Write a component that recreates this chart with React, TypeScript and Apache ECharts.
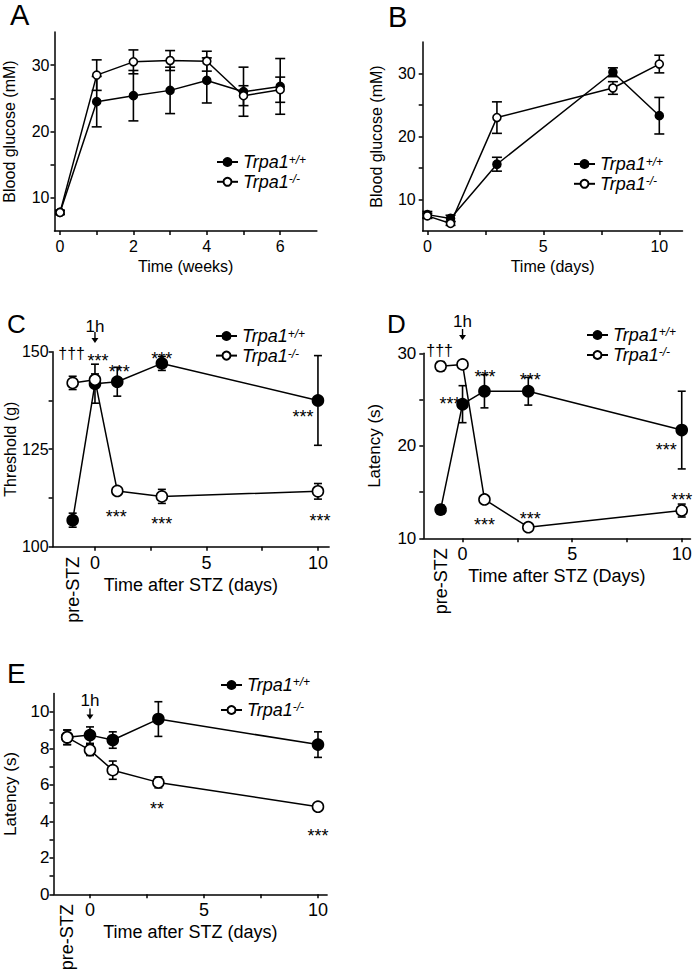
import React, { useEffect, useRef } from 'react';
import * as echarts from 'echarts';

// ---------- DATA ----------
// Panel A: blood glucose vs weeks
const weeksA = [0, 1, 2, 3, 4, 5, 6];
const glucoseA_WT = [7.8, 24.5, 25.4, 26.2, 27.7, 26.0, 26.8];
const glucoseA_WT_sem = [0.3, 3.8, 3.8, 3.5, 3.4, 3.7, 4.2];
const glucoseA_KO = [7.8, 28.5, 30.5, 30.7, 30.6, 25.4, 26.3];
const glucoseA_KO_sem = [0.3, 2.3, 1.8, 1.5, 1.5, 1.5, 1.9];

// Panel B: blood glucose vs days
const daysB = [0, 1, 3, 8, 10];
const glucoseB_WT = [7.6, 7.0, 15.6, 30.2, 23.3];
const glucoseB_WT_sem = [0.5, 0.5, 1.1, 0.7, 2.9];
const glucoseB_KO = [7.4, 6.2, 23.0, 27.7, 31.5];
const glucoseB_KO_sem = [0.4, 0.3, 2.5, 1.0, 1.4];

// Panels C, D, E: time after STZ (days); -1 = pre-STZ, 0 = 1 h
const daysSTZ = [-1, 0, 1, 3, 10];
const thresholdC_WT = [106.8, 141.8, 142.3, 147.0, 137.5];
const thresholdC_WT_sem = [1.8, 5.0, 3.7, 1.8, 11.5];
const thresholdC_KO = [142.0, 142.8, 114.3, 112.9, 114.2];
const thresholdC_KO_sem = [1.7, 1.5, 0.7, 1.8, 2.0];

const latencyD_WT = [13.1, 24.5, 25.9, 25.9, 21.7];
const latencyD_WT_sem = [0.5, 2.0, 1.8, 1.5, 4.2];
const latencyD_KO = [28.6, 28.8, 14.2, 11.2, 13.0];
const latencyD_KO_sem = [0.5, 0.4, 0.3, 0.2, 0.7];

const latencyE_WT = [8.6, 8.72, 8.45, 9.6, 8.2];
const latencyE_WT_sem = [0.4, 0.45, 0.45, 0.95, 0.7];
const latencyE_KO = [8.6, 7.9, 6.8, 6.13, 4.8];
const latencyE_KO_sem = [0.4, 0.3, 0.5, 0.3, 0.1];

// Tick values
const ticksA_x = [0, 1, 2, 3, 4, 5, 6];
const labelsA_x = [0, 2, 4, 6];
const ticksGluc_y = [10, 15, 20, 25, 30];
const labelsGluc_y = [10, 20, 30];
const ticksB_x = [0, 2.5, 5, 7.5, 10];
const labelsB_x = [0, 5, 10];
const ticksSTZ_x = [0, 2.5, 5, 7.5, 10];
const labelsSTZ_x = [0, 5, 10];
const ticksC_y = [100, 112.5, 125, 137.5, 150];
const labelsC_y = [100, 125, 150];
const ticksD_y = [10, 15, 20, 25, 30];
const labelsD_y = [10, 20, 30];
const ticksE_y = [0, 1, 2, 3, 4, 5, 6, 7, 8, 9, 10];
const labelsE_y = [0, 2, 4, 6, 8, 10];

const WT = 'Trpa1+/+';
const KO = 'Trpa1-/-';

// ---------- LAYOUT ----------
const FONT = '"Liberation Sans", Arial, Helvetica, sans-serif';

type Ann = { s: 'wt' | 'ko'; i: number; t: string; dx: number; dy: number; fs?: number };

const panels: any[] = [
  {
    letter: 'A', lx: 10, ly: 0, lfs: 29,
    grid: { left: 54.5, top: 32, width: 262.4, height: 199 },
    x: { min: -0.15, max: 7, ticks: ticksA_x, labels: labelsA_x, name: 'Time (weeks)', fs: 16, nameGap: 27, margin: 7 },
    y: { min: 5, max: 35, ticks: ticksGluc_y, labels: labelsGluc_y, name: 'Blood glucose (mM)', fs: 16, nameGap: 37, margin: 5 },
    xs: weeksA, wt: glucoseA_WT, wtE: glucoseA_WT_sem, ko: glucoseA_KO, koE: glucoseA_KO_sem,
    sym: 8, cap: 5, legend: { left: 216, top: 153, gap: 1.3, lh: 17 }, ann: [] as Ann[], arrow: null, pre: false,
  },
  {
    letter: 'B', lx: 388, ly: 2, lfs: 29,
    grid: { left: 422.7, top: 42, width: 259.8, height: 189 },
    x: { min: -0.2, max: 11, ticks: ticksB_x, labels: labelsB_x, name: 'Time (days)', fs: 16, nameGap: 27, margin: 7 },
    y: { min: 5, max: 35, ticks: ticksGluc_y, labels: labelsGluc_y, name: 'Blood glucose (mM)', fs: 16, nameGap: 38, margin: 7 },
    xs: daysB, wt: glucoseB_WT, wtE: glucoseB_WT_sem, ko: glucoseB_KO, koE: glucoseB_KO_sem,
    sym: 8, cap: 5, legend: { left: 573, top: 155, gap: 1.3, lh: 17 }, ann: [] as Ann[], arrow: null, pre: false,
  },
  {
    letter: 'C', lx: 7, ly: 311, lfs: 26,
    grid: { left: 52.6, top: 351.7, width: 276.5, height: 195 },
    x: { min: -1.9, max: 10.5, ticks: ticksSTZ_x, labels: labelsSTZ_x, name: 'Time after STZ (days)', fs: 18, nameGap: 29, margin: 7 },
    y: { min: 100, max: 150, ticks: ticksC_y, labels: labelsC_y, name: 'Threshold (g)', fs: 16, nameGap: 31, margin: 4, nameFs: 16 },
    xs: daysSTZ, wt: thresholdC_WT, wtE: thresholdC_WT_sem, ko: thresholdC_KO, koE: thresholdC_KO_sem,
    sym: 11, cap: 4, legend: { left: 215, top: 327, gap: 0.6, lh: 16 },
    ann: [
      { s: 'wt', i: 1, t: '***', dx: 3, dy: -27 },
      { s: 'wt', i: 2, t: '***', dx: 2, dy: -14 },
      { s: 'wt', i: 3, t: '***', dx: 0, dy: -9 },
      { s: 'wt', i: 4, t: '***', dx: -15, dy: 12 },
      { s: 'ko', i: 2, t: '***', dx: -1, dy: 22 },
      { s: 'ko', i: 3, t: '***', dx: 0, dy: 23 },
      { s: 'ko', i: 4, t: '***', dx: 2, dy: 25 },
      { s: 'ko', i: 0, t: '†††', dx: -1, dy: -29, fs: 16 },
    ] as Ann[],
    arrow: { sym: -14.2, lab: -25.7 }, pre: true,
  },
  {
    letter: 'D', lx: 387, ly: 311, lfs: 26,
    grid: { left: 423.3, top: 353.3, width: 267.2, height: 185 },
    x: { min: -1.79, max: 10.4, ticks: ticksSTZ_x, labels: labelsSTZ_x, name: 'Time after STZ (Days)', fs: 18, nameGap: 29, margin: 7 },
    y: { min: 10, max: 30, ticks: ticksD_y, labels: labelsD_y, name: 'Latency (s)', fs: 17, nameGap: 40, margin: 7 },
    xs: daysSTZ, wt: latencyD_WT, wtE: latencyD_WT_sem, ko: latencyD_KO, koE: latencyD_KO_sem,
    sym: 11, cap: 4, legend: { left: 586, top: 326, gap: 2, lh: 18 },
    ann: [
      { s: 'wt', i: 1, t: '***', dx: -12.5, dy: -5 },
      { s: 'wt', i: 2, t: '***', dx: 0.6, dy: -19 },
      { s: 'wt', i: 3, t: '***', dx: 2, dy: -16 },
      { s: 'wt', i: 4, t: '***', dx: -15.5, dy: 15 },
      { s: 'ko', i: 2, t: '***', dx: 0, dy: 21 },
      { s: 'ko', i: 3, t: '***', dx: 2, dy: -13 },
      { s: 'ko', i: 4, t: '***', dx: 0, dy: -15 },
      { s: 'ko', i: 0, t: '†††', dx: -1, dy: -16, fs: 16 },
    ] as Ann[],
    arrow: { sym: -18.8, lab: -31.8 }, pre: true,
  },
  {
    letter: 'E', lx: 7, ly: 659, lfs: 28,
    grid: { left: 53.5, top: 693.5, width: 273.6, height: 200.8 },
    x: { min: -1.6, max: 10.4, ticks: ticksSTZ_x, labels: labelsSTZ_x, name: 'Time after STZ (days)', fs: 18, nameGap: 29, margin: 7 },
    y: { min: 0, max: 11, ticks: ticksE_y, labels: labelsE_y, name: 'Latency (s)', fs: 17, nameGap: 35, margin: 4 },
    xs: daysSTZ, wt: latencyE_WT, wtE: latencyE_WT_sem, ko: latencyE_KO, koE: latencyE_KO_sem,
    sym: 11, cap: 4, legend: { left: 220, top: 676, gap: 7, lh: 18 },
    ann: [
      { s: 'ko', i: 3, t: '**', dx: -1.5, dy: 22 },
      { s: 'ko', i: 4, t: '***', dx: 0, dy: 25 },
    ] as Ann[],
    arrow: { sym: 20.5, lab: 6.5 }, pre: true,
  },
];

function buildOption() {
  const grid: any[] = [];
  const xAxis: any[] = [];
  const yAxis: any[] = [];
  const series: any[] = [];
  const legend: any[] = [];

  panels.forEach((p, gi) => {
    grid.push({ ...p.grid, outerBoundsMode: 'none', containLabel: false });
    const xi = xAxis.length;
    const yi = yAxis.length;
    p._xi = xi;
    p._yi = yi;
    xAxis.push({
      type: 'value', gridIndex: gi, position: 'bottom', min: p.x.min, max: p.x.max,
      axisLine: { show: true, onZero: false, lineStyle: { color: '#000', width: 1.5 } },
      axisTick: { show: true, customValues: p.x.ticks, length: 4, lineStyle: { color: '#000', width: 1.5 } },
      axisLabel: { customValues: p.x.labels, fontSize: p.x.fs, color: '#000', fontFamily: FONT, margin: p.x.margin },
      splitLine: { show: false },
      name: p.x.name, nameLocation: 'middle', nameGap: p.x.nameGap,
      nameTextStyle: { fontSize: p.x.fs, color: '#000', fontFamily: FONT },
    });
    yAxis.push({
      type: 'value', gridIndex: gi, min: p.y.min, max: p.y.max,
      axisLine: { show: true, onZero: false, lineStyle: { color: '#000', width: 1.5 } },
      axisTick: { show: true, customValues: p.y.ticks, length: 4, lineStyle: { color: '#000', width: 1.5 } },
      axisLabel: { customValues: p.y.labels, fontSize: p.y.fs, color: '#000', fontFamily: FONT, margin: p.y.margin },
      splitLine: { show: false },
      name: p.y.name, nameLocation: 'middle', nameGap: p.y.nameGap,
      nameTextStyle: { fontSize: p.y.nameFs || p.y.fs, color: '#000', fontFamily: FONT },
    });
    if (p.pre) {
      xAxis.push({
        type: 'value', gridIndex: gi, position: 'bottom', min: p.x.min, max: p.x.max,
        axisLine: { show: false, onZero: false }, axisTick: { show: false }, splitLine: { show: false },
        axisLabel: {
          customValues: [p.xs[0]], rotate: 90, margin: 10, fontSize: 18, color: '#000', fontFamily: FONT,
          formatter: () => 'pre-STZ',
        },
      });
    }

    const err = (name: string, ys: number[], es: number[]) => ({
      type: 'custom', name, xAxisIndex: xi, yAxisIndex: yi, z: 2, clip: false, silent: true,
      data: p.xs.map((x: number, k: number) => [x, ys[k] - es[k], ys[k] + es[k]]),
      encode: { x: 0, y: [1, 2] },
      renderItem: (_params: any, api: any) => {
        const x = api.value(0);
        const a = api.coord([x, api.value(2)]);
        const b = api.coord([x, api.value(1)]);
        const st = { stroke: '#000', lineWidth: 1.6 };
        const c = p.cap;
        return {
          type: 'group',
          children: [
            { type: 'line', shape: { x1: a[0], y1: a[1], x2: b[0], y2: b[1] }, style: st },
            { type: 'line', shape: { x1: a[0] - c, y1: a[1], x2: a[0] + c, y2: a[1] }, style: st },
            { type: 'line', shape: { x1: b[0] - c, y1: b[1], x2: b[0] + c, y2: b[1] }, style: st },
          ],
        };
      },
    });
    series.push(err('errWT' + gi, p.wt, p.wtE));
    series.push(err('errKO' + gi, p.ko, p.koE));

    const line = (name: string, ys: number[], fill: string) => ({
      type: 'line', name, xAxisIndex: xi, yAxisIndex: yi, z: 3, clip: false,
      data: p.xs.map((x: number, k: number) => [x, ys[k]]),
      symbol: 'circle', symbolSize: p.sym, showSymbol: true,
      lineStyle: { color: '#000', width: 1.5 },
      itemStyle: { color: fill, borderColor: '#000', borderWidth: 1.6 },
      emphasis: { disabled: true },
    });
    series.push(line(WT, p.wt, '#000'));
    series.push(line(KO, p.ko, '#fff'));

    legend.push({
      orient: 'vertical', left: p.legend.left, top: p.legend.top, itemGap: p.legend.gap,
      itemWidth: 21, itemHeight: 10, padding: 0,
      data: [WT, KO], selectedMode: false,
      formatter: (n: string) => '{i|Trpa1}{s|' + (n === WT ? '+/+' : '-/-') + '}',
      textStyle: {
        color: '#000', fontFamily: FONT,
        rich: {
          i: { fontSize: 18, fontStyle: 'italic', color: '#000', fontFamily: FONT, lineHeight: p.legend.lh },
          s: { fontSize: 12, fontStyle: 'italic', color: '#000', fontFamily: FONT, verticalAlign: 'top', lineHeight: p.legend.lh, padding: [0, 0, 6, 0] },
        },
      },
    });
  });

  return { animation: false, backgroundColor: '#fff', grid, xAxis, yAxis, series, legend };
}

// Annotation texts and arrows placed at pixel positions derived from the axes' own scales
function buildGraphic(chart: any) {
  const g: any[] = [];
  panels.forEach((p) => {
    g.push({
      type: 'text', left: p.lx, top: p.ly, silent: true,
      style: { text: p.letter, fontSize: p.lfs, fontFamily: FONT, fill: '#000' },
    });
    const finder = { xAxisIndex: p._xi, yAxisIndex: p._yi };
    p.ann.forEach((a: Ann) => {
      const ys = a.s === 'wt' ? p.wt : p.ko;
      const pt = chart.convertToPixel(finder, [p.xs[a.i], ys[a.i]]);
      g.push({
        type: 'text', x: pt[0] + a.dx, y: pt[1] + a.dy + (a.fs ? 0 : 4.5), silent: true, z: 10,
        style: { text: a.t, fontSize: a.fs || 18, fontFamily: FONT, fill: '#000', align: 'center', verticalAlign: 'middle' },
      });
    });
    if (p.arrow) {
      const pt = chart.convertToPixel(finder, [p.xs[1], p.y.max]);
      const cx = pt[0];
      const cy = pt[1] + p.arrow.sym;
      const h = 11;
      const top = cy - h / 2;
      const bot = cy + h / 2;
      g.push({
        type: 'line', silent: true, z: 10,
        shape: { x1: cx, y1: top, x2: cx, y2: bot - 4 },
        style: { stroke: '#000', lineWidth: 1.4 },
      });
      g.push({
        type: 'polygon', silent: true, z: 10,
        shape: { points: [[cx - 3.5, bot - 5], [cx + 3.5, bot - 5], [cx, bot]] },
        style: { fill: '#000' },
      });
      g.push({
        type: 'text', x: cx, y: pt[1] + p.arrow.lab, silent: true, z: 10,
        style: { text: '1h', fontSize: 17, fontFamily: FONT, fill: '#000', align: 'center', verticalAlign: 'middle' },
      });
    }
  });
  return g;
}

export default function App() {
  const ref = useRef<HTMLDivElement>(null);
  useEffect(() => {
    document.body.style.margin = '0';
    const chart = echarts.init(ref.current!, null, { renderer: 'svg' });
    chart.setOption(buildOption());
    chart.setOption({ graphic: buildGraphic(chart) });
    return () => chart.dispose();
  }, []);
  return <div ref={ref} style={{ width: 693, height: 970 }} />;
}
